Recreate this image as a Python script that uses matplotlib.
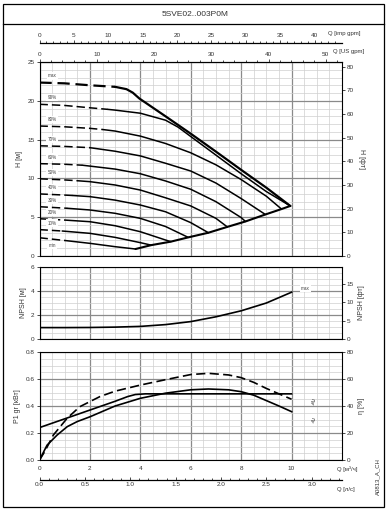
import matplotlib
matplotlib.use('Agg')
import matplotlib.pyplot as plt
from matplotlib.ticker import MultipleLocator, FixedLocator, FormatStrFormatter
from matplotlib.patches import Rectangle
from matplotlib.lines import Line2D

plt.rcParams['font.family'] = ['Liberation Sans', 'DejaVu Sans']

# ---- data ----
title = '5SVE02..003P0M'

# speed curves: Q [m3/h], H [m]; first n_dash points drawn dashed
speed_names = ['max', '90%', '80%', '70%', '60%', '50%', '40%', '30%', '20%', '10%', 'min']
speed_q = [
    [0, 1, 2, 3.0, 3.45, 3.7, 3.96, 5, 6, 7, 8, 9, 9.95],
    [0, 1, 2, 2.7, 3, 4, 5, 5.5, 6, 7, 8, 9, 9.95],
    [0, 1, 2, 2.5, 3, 4, 5, 6, 7, 8, 9, 9.6],
    [0, 1, 2, 3, 4, 5, 6, 7, 8, 8.96],
    [0, 1, 1.7, 3, 4, 5, 6, 7, 8, 8.17],
    [0, 1, 1.5, 2, 3, 4, 5, 6, 7, 7.45],
    [0, 1, 1.3, 2, 3, 4, 5, 6, 6.7],
    [0, 1, 1.1, 2, 3, 4, 5, 5.9],
    [0, 1, 2, 3, 4, 5, 5.21],
    [0, 0.9, 2, 3, 4, 4.43],
    [0, 1, 2, 3, 3.81],
]
speed_h = [
    [22.35, 22.25, 22.0, 21.8, 21.5, 21.05, 20.3, 18.0, 15.76, 13.45, 11.1, 8.8, 6.45],
    [19.55, 19.4, 19.1, 18.9, 18.8, 18.4, 17.5, 16.6, 15.4, 13.0, 10.6, 8.3, 6.45],
    [16.75, 16.65, 16.45, 16.3, 16.1, 15.45, 14.5, 13.3, 11.75, 9.85, 7.7, 6.05],
    [14.2, 14.12, 13.96, 13.5, 12.9, 11.95, 10.95, 9.4, 7.4, 5.35],
    [11.9, 11.82, 11.7, 11.2, 10.6, 9.67, 8.6, 7.0, 4.95, 4.45],
    [9.95, 9.8, 9.7, 9.58, 9.15, 8.5, 7.5, 6.45, 4.85, 3.75],
    [8.0, 7.85, 7.8, 7.65, 7.2, 6.57, 5.7, 4.3, 3.0],
    [6.35, 6.17, 6.15, 5.93, 5.5, 4.85, 3.8, 2.4],
    [4.8, 4.63, 4.42, 3.9, 3.13, 2.06, 1.85],
    [3.4, 3.22, 2.92, 2.4, 1.72, 1.4],
    [2.35, 2.0, 1.63, 1.2, 0.9],
]
speed_ndash = [4, 4, 4, 3, 3, 3, 3, 3, 2, 2, 2]

# lower operating limit
limit_q = [3.81, 4.43, 5.21, 5.9, 6.7, 7.45, 8.17, 8.96, 9.6, 9.95]
limit_h = [0.9, 1.4, 1.85, 2.4, 3.0, 3.75, 4.45, 5.35, 6.05, 6.45]

# NPSH
npsh_q = [0, 1, 2, 3, 4, 5, 6, 7, 8, 9, 10]
npsh_h = [0.95, 0.95, 0.96, 0.99, 1.05, 1.2, 1.45, 1.85, 2.35, 3.0, 3.9]

# power P1 [kW]
p1_q = [0, 1, 2, 3, 3.5, 3.8, 4.2, 5, 6, 7, 8, 9, 10]
p1_kw = [0.24, 0.305, 0.37, 0.435, 0.47, 0.485, 0.49, 0.49, 0.49, 0.49, 0.49, 0.49, 0.49]

# efficiencies [%]
eta_gr_q = [0, 0.3, 0.7, 1.1, 1.5, 2, 3, 4, 5, 6, 6.7, 7.5, 8, 8.5, 9, 9.5, 10]
eta_gr = [0, 11, 18.5, 24.7, 28.5, 32, 40, 45.7, 49.5, 52, 52.6, 52, 50.6, 48, 44, 40, 35.8]
eta_p_q = [0, 0.2, 0.55, 1.1, 1.6, 2.4, 3, 4, 5, 6, 6.7, 7.5, 8, 8.5, 9, 9.5, 10]
eta_p = [0, 6, 18.5, 31, 39.5, 47, 51, 55.5, 59.5, 63.3, 64.2, 63, 61, 57.5, 53, 49, 45]

# axis ticks
q_ticks = [0, 2, 4, 6, 8, 10]
us_ticks = [0, 10, 20, 30, 40, 50]
imp_ticks = [0, 5, 10, 15, 20, 25, 30, 35, 40]
ls_ticks = [0.0, 0.5, 1.0, 1.5, 2.0, 2.5, 3.0]

W, H = 391, 509


def fx(px):
    return px / W


def fy(py):
    return 1 - py / H


fig = plt.figure(figsize=(W / 100, H / 100), dpi=100)

# frame and title
fig.patches.append(Rectangle((fx(3), fy(507)), fx(384) - fx(3), fy(4) - fy(507),
                             transform=fig.transFigure, fill=False, lw=0.9, ec='black'))
fig.lines.append(Line2D([fx(3), fx(384)], [fy(24), fy(24)], transform=fig.transFigure,
                        lw=0.9, color='black'))
fig.text(0.5, fy(14), title, ha='center', va='center', fontsize=6, color='#333333')

left = fx(39.5)
width = fx(342) - fx(39.5)
ax_h = fig.add_axes([left, fy(256), width, fy(62) - fy(256)])
ax_n = fig.add_axes([left, fy(339), width, fy(267) - fy(339)])
ax_p = fig.add_axes([left, fy(460), width, fy(352) - fy(460)])

tick_kw = dict(labelsize=4.6, labelcolor='#333333', width=0.5, length=2, pad=1.5)


def base_style(ax, ymax, ymaj, ymin):
    ax.set_xlim(0, 12)
    ax.set_ylim(0, ymax)
    ax.xaxis.set_major_locator(FixedLocator(q_ticks))
    ax.xaxis.set_minor_locator(MultipleLocator(0.5))
    ax.yaxis.set_major_locator(MultipleLocator(ymaj))
    ax.yaxis.set_minor_locator(MultipleLocator(ymin))
    ax.grid(which='minor', color='#cfcfcf', lw=0.5)
    ax.grid(which='major', color='#8a8a8a', lw=0.9)
    ax.set_axisbelow(True)
    ax.tick_params(which='minor', length=0)
    ax.tick_params(which='major', **tick_kw)
    for s in ax.spines.values():
        s.set_linewidth(0.7)


base_style(ax_h, 25, 5, 1)
base_style(ax_n, 6, 2, 0.5)
base_style(ax_p, 0.8, 0.2, 0.05)
for ax in (ax_h, ax_n):
    ax.tick_params(axis='x', which='both', length=0, labelbottom=False)
ax_p.yaxis.set_major_formatter(FormatStrFormatter('%.1f'))
ax_p.tick_params(axis='x', length=0, pad=4)

# ---- H-Q curves ----
dash = (0, (5.5, 2.6))
for name, q, h, nd in zip(speed_names, speed_q, speed_h, speed_ndash):
    lw = 1.6 if name == 'max' else 1.1
    ax_h.plot(q[:nd], h[:nd], color='black', lw=lw, ls=dash)
    ax_h.plot(q[nd - 1:], h[nd - 1:], color='black', lw=lw, solid_capstyle='round')
    if name == 'min':
        ty = h[0] - 0.95
    else:
        ty = h[0] + 0.85
    ax_h.text(0.5, ty, name, fontsize=3.3, color='#444444', ha='center', va='center',
              bbox=dict(boxstyle='square,pad=0.25', fc='white', ec='none'))
ax_h.plot(limit_q, limit_h, color='black', lw=1.5, solid_capstyle='round')

ax_h.set_ylabel('H [м]', fontsize=5, color='#333333', labelpad=3)
ax_h2 = ax_h.twinx()
ax_h2.set_ylim(0, 25 * 3.2808)
ax_h2.yaxis.set_major_locator(MultipleLocator(10))
ax_h2.tick_params(**tick_kw)
ax_h2.set_ylabel('H [фт]', fontsize=5, color='#333333', rotation=270, labelpad=8)

us = ax_h.secondary_xaxis('top', functions=(lambda q: q * 4.4029, lambda g: g / 4.4029))
us.xaxis.set_major_locator(FixedLocator(us_ticks))
us.xaxis.set_minor_locator(MultipleLocator(2))
us.tick_params(which='major', **tick_kw)
us.tick_params(which='minor', length=1.2, width=0.5)

imp = ax_h.secondary_xaxis(1.098, functions=(lambda q: q * 3.6662, lambda g: g / 3.6662))
imp.xaxis.set_major_locator(FixedLocator(imp_ticks))
imp.xaxis.set_minor_locator(MultipleLocator(1))
imp.tick_params(which='major', **tick_kw)
imp.tick_params(which='minor', length=1.2, width=0.5)
imp.spines['top'].set_linewidth(0.9)

fig.text(fx(328), fy(33), 'Q [imp gpm]', fontsize=4.3, color='#333333', va='center')
fig.text(fx(333), fy(52), 'Q [US gpm]', fontsize=4.3, color='#333333', va='center')

# ---- NPSH ----
ax_n.plot(npsh_q, npsh_h, color='black', lw=1.2)
ax_n.text(10.55, 4.25, 'max', fontsize=3.3, color='#444444', ha='center', va='center',
          bbox=dict(boxstyle='square,pad=0.25', fc='white', ec='none'))
ax_n.set_ylabel('NPSH [м]', fontsize=5, color='#333333', labelpad=3)
ax_n2 = ax_n.twinx()
ax_n2.set_ylim(0, 6 * 3.2808)
ax_n2.yaxis.set_major_locator(MultipleLocator(5))
ax_n2.tick_params(**tick_kw)
ax_n2.set_ylabel('NPSH [фт]', fontsize=5, color='#333333', rotation=90, labelpad=3)

# ---- power / efficiency ----
ax_p.plot(p1_q, p1_kw, color='black', lw=1.2)
ax_p.plot(eta_gr_q, [e / 100 for e in eta_gr], color='black', lw=1.2)
ax_p.plot(eta_p_q, [e / 100 for e in eta_p], color='black', lw=1.2, ls=dash)
ax_p.set_ylabel('P1 gr [кВт]', fontsize=5, color='#333333', labelpad=3)
ax_p2 = ax_p.twinx()
ax_p2.set_ylim(0, 80)
ax_p2.yaxis.set_major_locator(MultipleLocator(20))
ax_p2.tick_params(**tick_kw)
ax_p2.set_ylabel('η [%]', fontsize=5, color='#333333', rotation=90, labelpad=3)
ax_p.text(10.75, 0.43, r'$\eta_{gr}$', fontsize=4, rotation=270, color='#333333',
          ha='center', va='center')
ax_p.text(10.75, 0.30, r'$\eta_{p}$', fontsize=4, rotation=270, color='#333333',
          ha='center', va='center')

ls_ax = ax_p.secondary_xaxis(-0.185, functions=(lambda q: q / 3.6, lambda l: l * 3.6))
ls_ax.xaxis.set_major_locator(FixedLocator(ls_ticks))
ls_ax.xaxis.set_minor_locator(MultipleLocator(0.1))
ls_ax.xaxis.set_major_formatter(FormatStrFormatter('%.1f'))
ls_ax.tick_params(which='major', direction='in', **tick_kw)
ls_ax.tick_params(which='minor', direction='in', length=1.2, width=0.5)
ls_ax.spines['bottom'].set_linewidth(0.9)

fig.text(fx(337), fy(469), 'Q [м³/ч]', fontsize=4.3, color='#333333', va='center')
fig.text(fx(337), fy(490), 'Q [л/с]', fontsize=4.3, color='#333333', va='center')
fig.text(fx(378), fy(477), 'A0813_A_CH', fontsize=4.3, color='#333333', va='center',
         ha='center', rotation=90)

fig.savefig('out.png', dpi=100)
